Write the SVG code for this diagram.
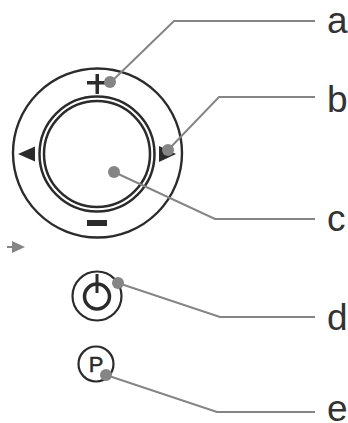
<svg xmlns="http://www.w3.org/2000/svg" width="348" height="423" viewBox="0 0 348 423">
<style>
.o{fill:none;stroke:#2b2b2b}
.l{fill:none;stroke:#858585;stroke-width:2}
.d{fill:#858585}
.k{fill:#2b2b2b}
.t{font-family:"Liberation Sans",Arial,sans-serif;font-size:37px;fill:#333}
.p{font-family:"Liberation Sans",Arial,sans-serif;font-size:22px;fill:#2b2b2b;stroke:#2b2b2b;stroke-width:.5}
</style>
<rect width="348" height="423" fill="#fff"/>
<g id="dial">
<circle class="o" cx="97.500" cy="153" r="84.500" stroke-width="2.400"/>
<circle class="o" cx="97" cy="154" r="57.500" stroke-width="2.500"/>
<circle class="o" cx="97" cy="154" r="53" stroke-width="2.500"/>
<path class="k" d="M87 81h8.500v-7h3.500v7h8v3.500h-8v9.500h-3.500v-9.500H87z"/>
<rect class="k" x="87" y="220" width="20" height="6"/>
<path class="k" d="M18 154l17-7.500v15z"/>
<path class="k" d="M176 154l-17-8v16z"/>
</g>
<g id="power">
<circle class="o" cx="97" cy="296" r="24.500" stroke-width="2.200"/>
<circle class="o" cx="97" cy="296.500" r="12.500" stroke-width="3.500"/>
<path class="o" d="M97 274v19" stroke-width="3"/>
</g>
<g id="park">
<circle class="o" cx="96" cy="364" r="17.500" stroke-width="2.200"/>
<text class="p" x="96" y="372" text-anchor="middle">P</text>
</g>
<g id="connectors">
<path class="l" d="M110 83L174 21H315"/>
<path class="l" d="M168 150L219 97H315"/>
<path class="l" d="M114 172L215 219H315"/>
<path class="l" d="M118 283L220 317H315"/>
<path class="l" d="M106 375L217 412H315"/>
<circle class="d" cx="110" cy="82" r="6"/>
<circle class="d" cx="168" cy="150" r="6"/>
<circle class="d" cx="114" cy="172" r="6"/>
<circle class="d" cx="118" cy="283" r="6"/>
<circle class="d" cx="106" cy="375" r="6"/>
<path class="d" d="M7 246h5v-5l13 6-13 6v-5H7z"/>
</g>
<g id="labels">
<text class="t" x="327" y="33">a</text>
<text class="t" x="327" y="112">b</text>
<text class="t" x="327" y="231">c</text>
<text class="t" x="327" y="330">d</text>
<text class="t" x="327" y="421">e</text>
</g>
</svg>
